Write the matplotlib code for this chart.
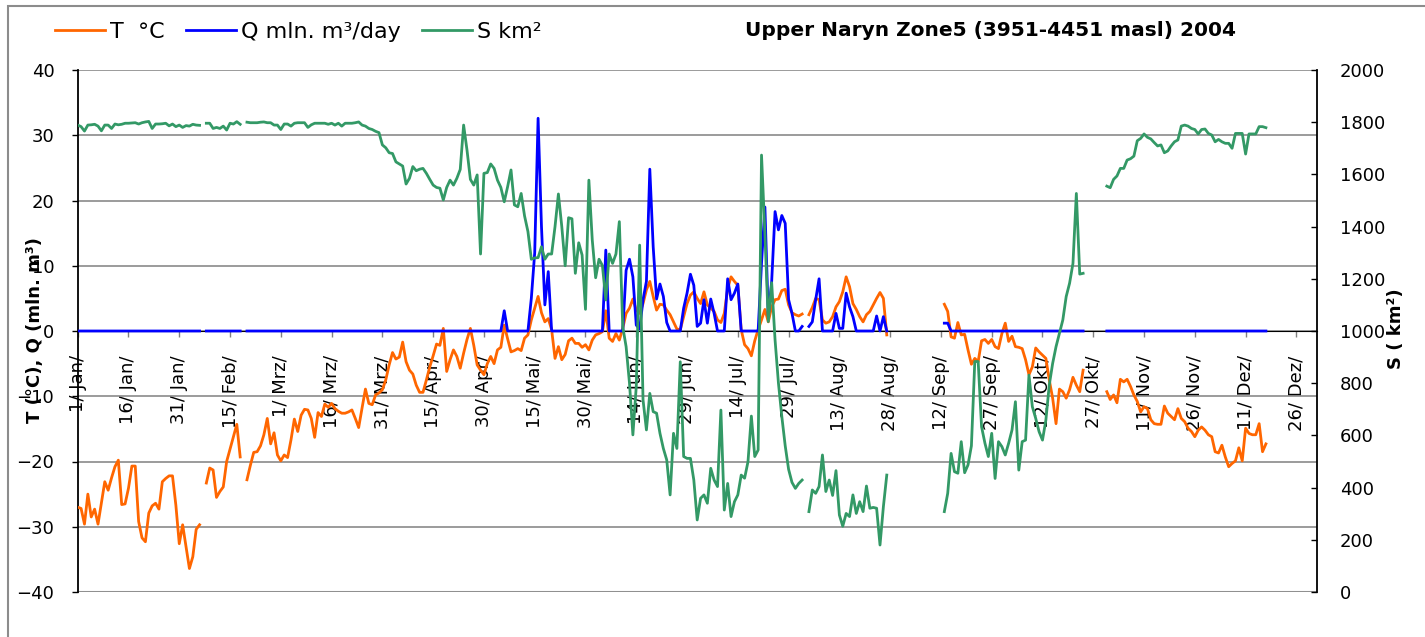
import numpy as np
import matplotlib
matplotlib.use("Agg")
import matplotlib.pyplot as plt
from matplotlib.patches import Rectangle

nan = np.nan

# daily values, day 0 = 1 Jan 2004
temp = [
    -27.0, -27.2, -29.6, -25.0, -28.5, -27.3, -29.6, -26.3, -23.1, -24.4,
    -22.5, -20.8, -19.8, -26.6, -26.5, -24.1, -20.7, -20.7, -29.2, -31.7,
    -32.3, -27.9, -26.8, -26.4, -27.3, -23.1, -22.6, -22.2, -22.2, -26.7,
    -32.6, -29.7, -33.0, -36.4, -34.6, -30.4, -29.7, nan, -23.3, -21.0,
    -21.3, -25.5, -24.6, -23.9, -20.0, -18.1, -16.2, -14.3, -19.3, nan,
    -22.8, -20.6, -18.6, -18.5, -17.6, -15.9, -13.4, -17.3, -15.6, -19.0,
    -19.9, -19.0, -19.4, -16.7, -13.5, -15.4, -12.9, -12.0, -12.1, -13.4,
    -16.3, -12.5, -13.1, -11.2, -11.7, -11.1, -11.9, -12.3, -12.6, -12.6,
    -12.4, -12.1, -13.4, -14.8, -11.8, -8.9, -11.1, -11.3, -9.8, -9.5,
    -9.0, -7.5, -5.2, -3.3, -4.3, -4.0, -1.7, -4.7, -6.0, -6.6,
    -8.3, -9.4, -9.4, -7.5, -5.5, -3.8, -2.0, -2.2, 0.4, -6.2,
    -4.4, -2.9, -3.9, -5.7, -3.4, -1.3, 0.4, -2.2, -5.2, -6.0,
    -6.7, -5.0, -3.9, -5.0, -2.9, -2.5, 0.9, -1.2, -3.2, -3.0,
    -2.7, -3.0, -1.1, -0.6, 1.7, 3.5, 5.3, 2.8, 1.4, 1.9,
    0.2, -4.2, -2.4, -4.4, -3.6, -1.5, -1.1, -1.9, -1.9, -2.5,
    -2.1, -2.9, -1.4, -0.6, -0.4, -0.1, 3.1, -1.1, -1.6, -0.4,
    -1.4, 0.4, 2.7, 3.5, 4.9, 3.2, 2.7, 4.2, 6.3, 7.6,
    5.3, 3.2, 4.1, 4.0, 3.2, 2.5, 1.4, 0.3, 0.2, 2.2,
    4.2, 5.5, 6.0, 5.0, 4.2, 6.0, 4.0, 3.5, 3.0, 1.7,
    1.3, 2.7, 6.5, 8.3, 7.6, 7.0, 0.2, -2.1, -2.7, -3.8,
    -1.5, 0.2, 1.7, 3.3, 1.4, 3.7, 4.8, 4.9, 6.2, 6.4,
    4.0, 2.8, 2.5, 2.3, 2.6, nan, 2.5, 3.6, 5.0, 4.8,
    1.7, 1.2, 1.4, 2.2, 3.7, 4.5, 6.0, 8.3, 6.8, 4.2,
    3.3, 2.2, 1.4, 2.5, 3.0, 4.0, 5.0, 5.9, 5.0, -0.6,
    nan, nan, nan, nan, nan, nan, nan, nan, nan, nan,
    nan, nan, nan, nan, nan, nan, 4.1, 3.0, -0.9, -1.1,
    1.3, -0.6, -0.5, -2.9, -5.1, -4.2, -4.7, -1.5, -1.3, -1.9,
    -1.3, -2.4, -2.7, -0.4, 1.2, -1.6, -0.8, -2.4, -2.5, -2.7,
    -4.4, -6.7, -5.5, -2.6, -3.2, -3.7, -4.2, -7.5, -10.3, -14.2,
    -8.9, -9.3, -10.3, -9.0, -7.1, -8.3, -9.3, -6.0, nan, nan,
    nan, nan, nan, nan, -9.3, -10.5, -9.8, -11.0, -7.4, -7.8,
    -7.4, -8.5, -9.8, -10.8, -12.4, -11.6, -11.9, -13.6, -14.2, -14.3,
    -14.3, -11.5, -12.6, -13.1, -13.6, -11.9, -13.4, -13.9, -14.9, -15.4,
    -16.2, -15.2, -14.7, -15.2, -15.9, -16.2, -18.5, -18.7, -17.5, -19.3,
    -20.8, -20.3, -19.9, -17.9, -19.9, -14.9, -15.7, -15.9, -15.9, -14.2,
    -18.5, -17.3,
]

runoff = [
    0, 0, 0, 0, 0, 0, 0, 0, 0, 0,
    0, 0, 0, 0, 0, 0, 0, 0, 0, 0,
    0, 0, 0, 0, 0, 0, 0, 0, 0, 0,
    0, 0, 0, 0, 0, 0, 0, nan, 0, 0,
    0, 0, 0, 0, 0, 0, 0, 0, 0, nan,
    0, 0, 0, 0, 0, 0, 0, 0, 0, 0,
    0, 0, 0, 0, 0, 0, 0, 0, 0, 0,
    0, 0, 0, 0, 0, 0, 0, 0, 0, 0,
    0, 0, 0, 0, 0, 0, 0, 0, 0, 0,
    0, 0, 0, 0, 0, 0, 0, 0, 0, 0,
    0, 0, 0, 0, 0, 0, 0, 0, 0, 0,
    0, 0, 0, 0, 0, 0, 0, 0, 0, 0,
    0, 0, 0, 0, 0, 0, 3.1, 0, 0, 0,
    0, 0, 0, 0, 5.0, 12.0, 32.6, 16.0, 4.0, 9.1,
    0, 0, 0, 0, 0, 0, 0, 0, 0, 0,
    0, 0, 0, 0, 0, 0, 12.4, 0, 0, 0,
    0, 0, 9.3, 11.0, 8.3, 0.9, 0.3, 4.8, 7.6, 24.8,
    12.9, 4.9, 7.2, 5.3, 1.3, 0, 0, 0, 0, 3.5,
    5.8, 8.7, 7.0, 0.7, 1.2, 4.8, 1.2, 4.9, 2.7, 0,
    0, 0, 8.0, 4.8, 5.8, 7.2, 0, 0, 0, 0,
    0, 0, 10.4, 19.0, 2.2, 7.6, 18.3, 15.5, 17.7, 16.5,
    4.8, 2.7, 0, 0, 0.7, nan, 0.7, 1.4, 4.8, 8.0,
    0, 0, 0, 0, 2.7, 0.4, 0.4, 5.8, 3.7, 2.2,
    0, 0, 0, 0, 0, 0, 2.3, 0, 2.2, 0,
    nan, nan, nan, nan, nan, nan, nan, nan, nan, nan,
    nan, nan, nan, nan, nan, nan, 1.2, 1.2, 0, 0,
    0, 0, 0, 0, 0, 0, 0, 0, 0, 0,
    0, 0, 0, 0, 0, 0, 0, 0, 0, 0,
    0, 0, 0, 0, 0, 0, 0, 0, 0, 0,
    0, 0, 0, 0, 0, 0, 0, 0, nan, nan,
    nan, nan, nan, nan, 0, 0, 0, 0, 0, 0,
    0, 0, 0, 0, 0, 0, 0, 0, 0, 0,
    0, 0, 0, 0, 0, 0, 0, 0, 0, 0,
    0, 0, 0, 0, 0, 0, 0, 0, 0, 0,
    0, 0, 0, 0, 0, 0, 0, 0, 0, 0,
    0, 0,
]

snow_area = [
    1789, 1783, 1766, 1789, 1790, 1792, 1785, 1767, 1789, 1789,
    1776, 1793, 1790, 1792, 1796, 1796, 1797, 1798, 1793, 1798,
    1801, 1803, 1776, 1793, 1793, 1794, 1796, 1786, 1793, 1783,
    1789, 1780, 1787, 1785, 1792, 1789, 1788, nan, 1796, 1796,
    1776, 1780, 1776, 1785, 1770, 1796, 1793, 1802, 1792, nan,
    1800, 1798, 1798, 1798, 1800, 1801, 1798, 1798, 1789, 1789,
    1772, 1793, 1793, 1785, 1796, 1798, 1798, 1798, 1780, 1790,
    1796, 1796, 1796, 1796, 1792, 1796, 1789, 1796, 1785, 1796,
    1796, 1796, 1798, 1801, 1789, 1785, 1776, 1772, 1765, 1760,
    1713, 1702, 1683, 1680, 1648, 1640, 1632, 1563, 1585, 1630,
    1614, 1620, 1623, 1604, 1581, 1559, 1550, 1547, 1502, 1550,
    1578, 1559, 1585, 1619, 1789, 1693, 1581, 1559, 1598, 1295,
    1604, 1607, 1640, 1623, 1578, 1550, 1495, 1553, 1617, 1483,
    1476, 1527, 1441, 1381, 1275, 1280, 1281, 1323, 1275, 1295,
    1295, 1400, 1525, 1400, 1250, 1434, 1430, 1221, 1338, 1291,
    1083, 1578, 1349, 1204, 1275, 1251, 1119, 1295, 1259, 1295,
    1419, 1017, 940, 800, 602, 787, 1329, 736, 621, 761,
    691, 685, 608, 550, 506, 372, 608, 550, 882, 519,
    512, 512, 429, 276, 359, 372, 340, 474, 429, 404,
    697, 314, 416, 289, 346, 372, 448, 436, 499, 674,
    519, 544, 1674, 1374, 1036, 1185, 966, 800, 672, 560,
    470, 420, 397, 416, 429, nan, 308, 391, 378, 404,
    525, 385, 429, 370, 465, 295, 252, 301, 289, 372,
    301, 346, 308, 406, 321, 324, 321, 180, 327, 448,
    nan, nan, nan, nan, nan, nan, nan, nan, nan, nan,
    nan, nan, nan, nan, nan, nan, 308, 378, 531, 461,
    455, 576, 457, 487, 560, 883, 883, 633, 570, 519,
    608, 435, 576, 557, 525, 570, 621, 729, 467, 576,
    582, 831, 710, 665, 614, 582, 659, 793, 876, 940,
    991, 1042, 1132, 1183, 1259, 1527, 1218, 1221, nan, nan,
    nan, nan, nan, nan, 1555, 1549, 1581, 1594, 1623, 1623,
    1655, 1660, 1670, 1729, 1738, 1755, 1742, 1736, 1722, 1709,
    1713, 1683, 1690, 1709, 1725, 1732, 1785, 1789, 1785, 1776,
    1772, 1755, 1772, 1774, 1757, 1751, 1725, 1734, 1725, 1719,
    1719, 1700, 1757, 1757, 1757, 1678, 1755, 1755, 1755, 1783,
    1783, 1779,
]

tick_days = [0, 15, 30, 45, 60, 75, 90, 105, 120, 135, 150, 165, 180,
             195, 210, 225, 240, 255, 270, 285, 300, 315, 330, 345, 360]
tick_labels = ["1/ Jan/", "16/ Jan/", "31/ Jan/", "15/ Feb/", "1/ Mrz/",
               "16/ Mrz/", "31/ Mrz/", "15/ Apr/", "30/ Apr/", "15/ Mai/",
               "30/ Mai/", "14/ Jun/", "29/ Jun/", "14/ Jul/", "29/ Jul/",
               "13/ Aug/", "28/ Aug/", "12/ Sep/", "27/ Sep/", "12/ Okt/",
               "27/ Okt/", "11/ Nov/", "26/ Nov/", "11/ Dez/", "26/ Dez/"]

days = np.arange(len(temp))

W, H = 1425, 637
fig = plt.figure(figsize=(W / 100, H / 100), dpi=100)
ax = fig.add_axes([77.7 / W, 1 - 592 / H, 1239 / W, 522 / H])
ax2 = ax.twinx()

c_t, c_q, c_s = "#FF6600", "#0000FF", "#339966"
lt, = ax.plot(days, temp, color=c_t, lw=2.0, zorder=3)
lq, = ax.plot(days, runoff, color=c_q, lw=2.0, zorder=4)
ls, = ax2.plot(days, snow_area, color=c_s, lw=2.0)

ax.set_xlim(0, 366)
ax.set_ylim(-40, 40)
ax2.set_ylim(0, 2000)
ax.set_yticks(range(-40, 41, 10))
ax2.set_yticks(range(0, 2001, 200))
ax.set_xticks(tick_days)
ax.set_xticklabels(tick_labels)

ax.yaxis.grid(True, color="#808080", lw=1.1)
ax.set_axisbelow(True)
ax.axhline(-40, color="#909090", lw=2.2, zorder=1)

for s in ["top", "right"]:
    ax.spines[s].set_visible(False)
ax.spines["bottom"].set_position(("data", 0))
ax.spines["bottom"].set_zorder(1.5)
ax.spines["left"].set_linewidth(1.3)
for s in ["top", "bottom", "left"]:
    ax2.spines[s].set_visible(False)
ax2.spines["right"].set_linewidth(1.3)

ax.tick_params(axis="x", direction="out", length=4.5, width=1, color="#808080",
               pad=13, labelsize=13, labelrotation=90)
ax.tick_params(axis="y", direction="out", length=4.3, width=1, pad=12.5, labelsize=13)
ax2.tick_params(axis="y", direction="in", length=4.3, width=1, pad=16.5, labelsize=13)

fig.text(35 / W, 1 - 330 / H, "T (°C), Q (mln. m³)", rotation=90, ha="center",
         va="center", fontsize=13, fontweight="bold")
fig.text(1396 / W, 1 - 329 / H, "S ( km²)", rotation=90, ha="center",
         va="center", fontsize=13, fontweight="bold")
fig.text(990 / W, 1 - 31 / H, "Upper Naryn Zone5 (3951-4451 masl) 2004",
         ha="center", va="center", fontsize=14.5, fontweight="bold")

ax.legend([lt, lq, ls], ["T  °C", "Q mln. m³/day", "S km²"], ncol=3,
          loc="center left", bbox_to_anchor=(43.6 / W, 1 - 32 / H),
          bbox_transform=fig.transFigure, frameon=False, fontsize=16,
          handlelength=2.27, handletextpad=0.21, columnspacing=0.95, borderpad=0)

fig.add_artist(Rectangle((7.5 / W, -0.1), 1.2, 1.1 - 6 / H, transform=fig.transFigure,
                         fill=False, edgecolor="#8c8c8c", lw=1.5))

fig.savefig("out.png", dpi=100)
